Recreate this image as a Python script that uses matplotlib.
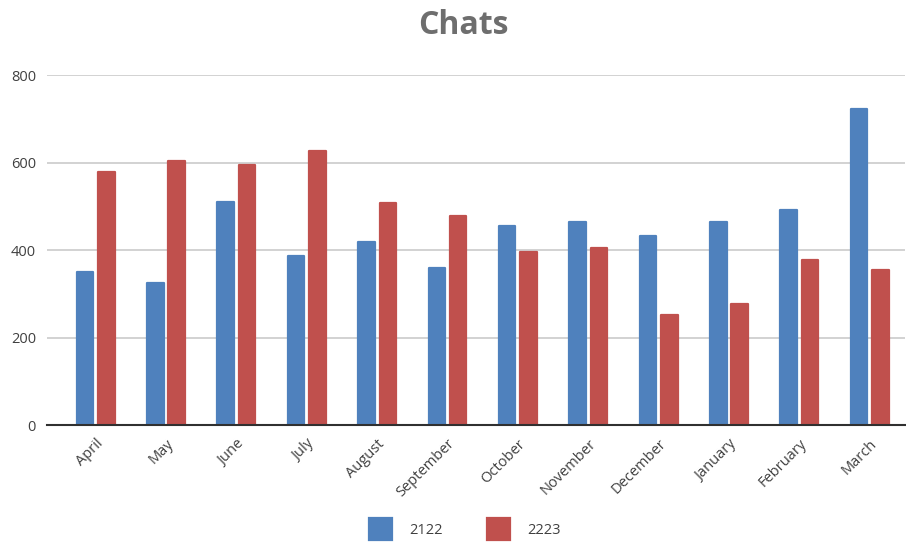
import numpy as np
import matplotlib.pyplot as plt

months = ['April', 'May', 'June', 'July', 'August', 'September', 'October',
          'November', 'December', 'January', 'February', 'March']
chats_2122 = [350, 325, 511, 386, 419, 359, 456, 465, 433, 465, 492, 723]
chats_2223 = [580, 603, 594, 627, 507, 479, 396, 405, 251, 278, 377, 354]
series_names = ['2122', '2223']

plt.rcParams['font.family'] = ['Open Sans', 'DejaVu Sans']

fig = plt.figure(figsize=(9.06, 5.45), dpi=100)
ax = fig.add_axes([47 / 906, 1 - 425.3 / 545, 858 / 906, 350 / 545])

index = np.arange(len(months))
bar_width = 0.235
offset = 0.152

# same-colour edge with round joins gives the soft top corners
bars_a = ax.bar(index - offset, chats_2122, bar_width, color='#4F81BD', label=series_names[0],
                edgecolor='#4F81BD', linewidth=1.6, zorder=3)
bars_b = ax.bar(index + offset, chats_2223, bar_width, color='#C0504D', label=series_names[1],
                edgecolor='#C0504D', linewidth=1.6, zorder=3)
for b in list(bars_a) + list(bars_b):
    b.set_joinstyle('round')

ax.set_xlim(-0.69, 11.5)
ax.set_ylim(0, 800)
ax.set_yticks([0, 200, 400, 600, 800])
ax.set_xticks(index)
ax.set_xticklabels(months, rotation=45, ha='right', rotation_mode='anchor')
ax.tick_params(axis='both', length=0, labelsize=10.5, colors='#404040')
ax.tick_params(axis='x', pad=8)
ax.tick_params(axis='y', pad=8)

ax.grid(axis='y', color='#CFCFCF', linewidth=1.3, zorder=0)
for side in ['top', 'right', 'left']:
    ax.spines[side].set_visible(False)
ax.spines['bottom'].set_color('#303030')
ax.spines['bottom'].set_linewidth(1.5)
ax.spines['bottom'].set_zorder(4)

fig.text(0.511, 1 - 26 / 545, 'Chats', ha='center', va='center', fontsize=23,
         fontweight='bold', color='#6E6E6E')

fig.legend(loc='center', bbox_to_anchor=(0.513, 1 - 529 / 545), ncol=2, frameon=False,
           fontsize=10.5, handlelength=1.6, handleheight=2.0, columnspacing=3.0,
           handletextpad=1.2, labelcolor='#404040')

fig.savefig('out.png', dpi=100)
